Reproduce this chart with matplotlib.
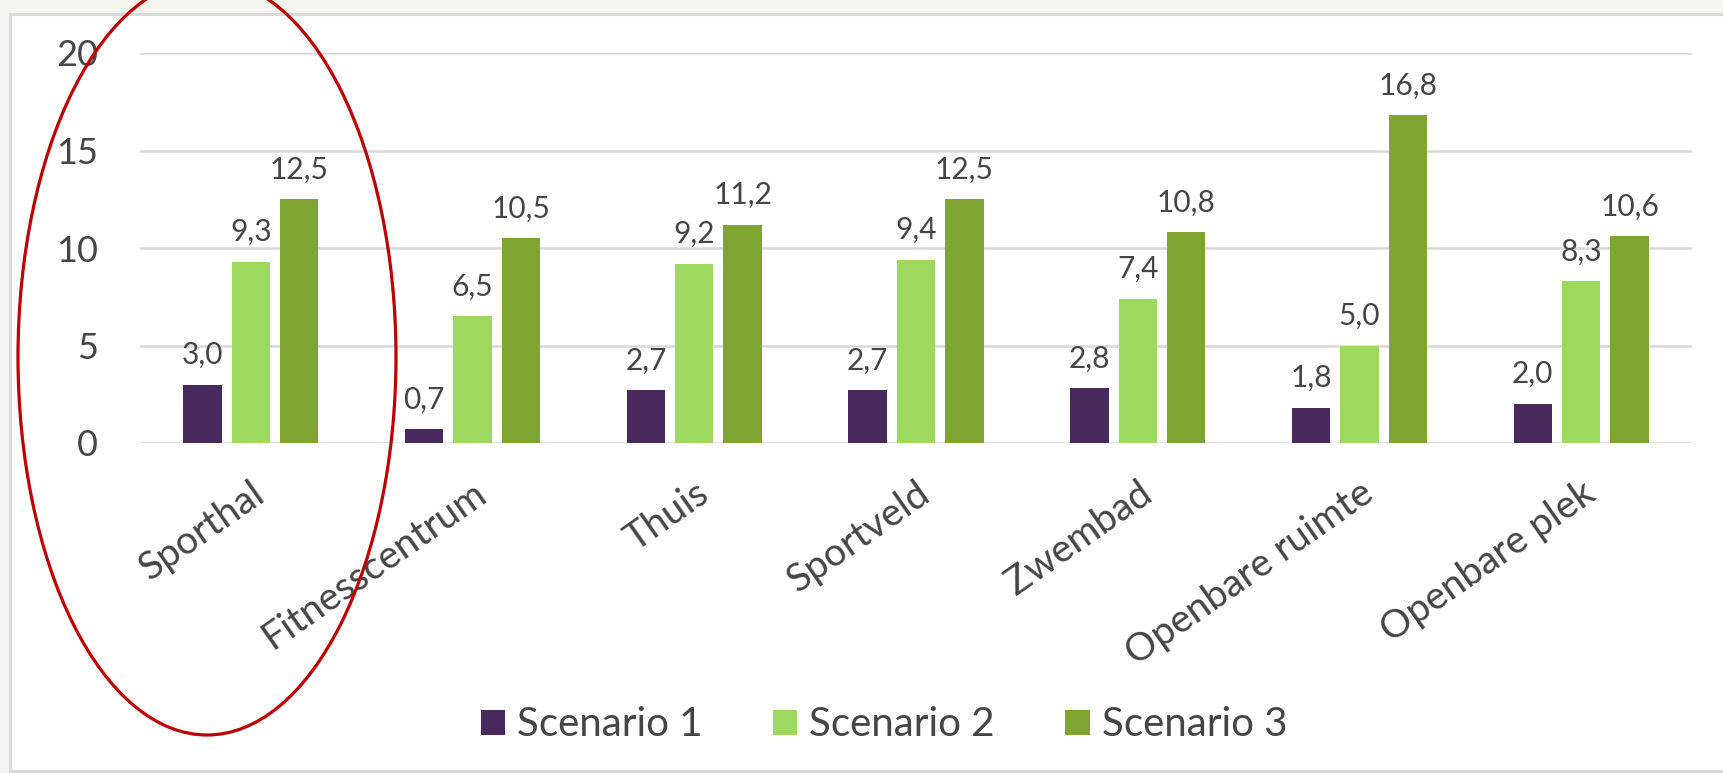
import numpy as np
import matplotlib
matplotlib.use('Agg')
import matplotlib.pyplot as plt
from matplotlib.patches import Rectangle, Ellipse

# data
categories = ['Sporthal', 'Fitnesscentrum', 'Thuis', 'Sportveld', 'Zwembad',
              'Openbare ruimte', 'Openbare plek']
scenario1 = [3.0, 0.7, 2.7, 2.7, 2.8, 1.8, 2.0]
scenario2 = [9.3, 6.5, 9.2, 9.4, 7.4, 5.0, 8.3]
scenario3 = [12.5, 10.5, 11.2, 12.5, 10.8, 16.8, 10.6]
series_names = ['Scenario 1', 'Scenario 2', 'Scenario 3']
yticks = [0, 5, 10, 15, 20]

colors = ['#47295e', '#9dd95e', '#7ea431']
text_color = '#454545'
grid_color = '#d9d9d9'

plt.rcParams['font.family'] = ['Lato', 'DejaVu Sans']

W, H = 1723, 773
fig = plt.figure(figsize=(W / 100, H / 100), dpi=100)
fig.patch.set_facecolor('#f5f5f0')

# white chart area with grey border
fig.add_artist(Rectangle((10 / W, 1 - 771 / H), (W + 20) / W, (771 - 14) / H,
                         transform=fig.transFigure, facecolor='white',
                         edgecolor=grid_color, linewidth=2.2, zorder=0))

ax = fig.add_axes([140 / W, 1 - 443 / H, (1692 - 140) / W, (443 - 53) / H])
ax.set_facecolor('none')

x = np.arange(len(categories))
step = 0.218
width = 0.173
for i, (vals, name) in enumerate(zip([scenario1, scenario2, scenario3], series_names)):
    pos = x + (i - 1) * step
    ax.bar(pos, vals, width, color=colors[i], label=name, zorder=3)
    for px, v in zip(pos, vals):
        ax.annotate(f'{v:.1f}'.replace('.', ','), (px, v), xytext=(0, 15),
                    textcoords='offset points', ha='center', va='baseline',
                    fontsize=21.5, color=text_color)

ax.set_xlim(-0.5, len(categories) - 0.5)
ax.set_ylim(0, 20)
ax.set_yticks(yticks)
ax.set_yticklabels([str(t) for t in yticks], fontsize=26, color=text_color)
ax.yaxis.grid(True, color=grid_color, linewidth=1.8, zorder=0)
ax.set_axisbelow(True)
for s in ax.spines.values():
    s.set_visible(False)
ax.tick_params(axis='y', length=0, pad=30)
ax.tick_params(axis='x', length=0, pad=23)
ax.set_xticks(x)
ax.set_xticklabels(categories, rotation=35, ha='right', rotation_mode='anchor',
                   fontsize=28, color=text_color)

leg = fig.legend(loc='center', bbox_to_anchor=(884 / W, 1 - 725 / H), ncol=3,
                 frameon=False, fontsize=29, handlelength=0.6, handleheight=0.6,
                 handletextpad=0.3, columnspacing=1.75, labelcolor=text_color)

# red ellipse highlighting Sporthal
fig.add_artist(Ellipse((207 / W, 1 - 357 / H), 378 / W, 756 / H,
                       transform=fig.transFigure, fill=False,
                       edgecolor='#c00000', linewidth=2.3, zorder=10))

fig.savefig('out.png', dpi=100, facecolor=fig.get_facecolor())
